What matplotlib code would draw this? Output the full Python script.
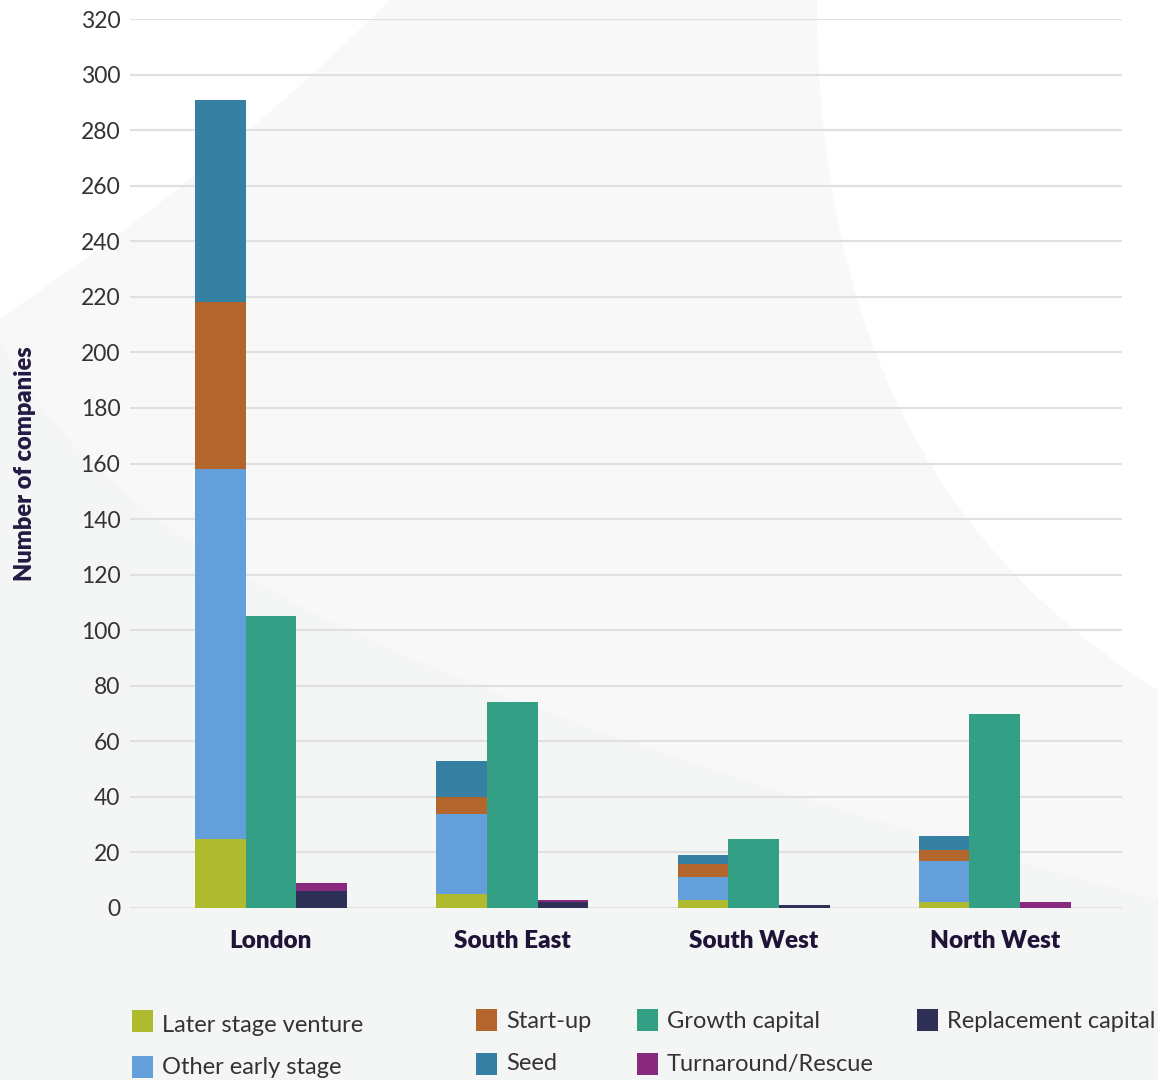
import matplotlib
matplotlib.use("Agg")
import matplotlib.pyplot as plt
from matplotlib.patches import PathPatch, Rectangle
from matplotlib.path import Path
import numpy as np

plt.rcParams['font.family'] = ['Lato', 'DejaVu Sans']

# Companies by region and investment stage
regions = ["London", "South East", "South West", "North West"]
later_stage = [25, 5, 3, 2]
other_early = [133, 29, 8, 15]
start_up = [60, 6, 5, 4]
seed = [73, 13, 3, 5]
growth_capital = [105, 74, 25, 70]
replacement_capital = [6, 2, 1, 0]
turnaround = [3, 1, 0, 2]
y_ticks = list(range(0, 321, 20))

colors = {
    "Later stage venture": "#b0ba2f",
    "Other early stage": "#63a0db",
    "Start-up": "#b3662b",
    "Seed": "#3680a3",
    "Growth capital": "#339f85",
    "Turnaround/Rescue": "#8a2a7e",
    "Replacement capital": "#2e3057",
}

W, H = 1158, 1080
fig = plt.figure(figsize=(W / 100, H / 100), dpi=100)
fig.patch.set_facecolor("#f4f5f5")

# Decorative background swooshes, in pixel coordinates
bg = fig.add_axes([0, 0, 1, 1], zorder=-10)
bg.set_xlim(0, W)
bg.set_ylim(H, 0)
bg.axis("off")

M, C3, C4, L, CL = Path.MOVETO, Path.CURVE3, Path.CURVE4, Path.LINETO, Path.CLOSEPOLY

mid_path = Path(
    [(0, 340), (110, 560), (420, 700), (1158, 900), (1158, 0), (0, 0), (0, 340)],
    [M, C4, C4, C4, L, L, CL])
bg.add_patch(PathPatch(mid_path, facecolor="#f8f8f8", edgecolor="none"))

tl_path = Path([(0, 0), (390, 0), (215, 175), (0, 318), (0, 0)],
               [M, L, C3, C3, CL])
bg.add_patch(PathPatch(tl_path, facecolor="#ffffff", edgecolor="none"))

tr_path = Path([(817, 0), (817, 350), (950, 560), (1158, 690), (1158, 0), (817, 0)],
               [M, C4, C4, C4, L, CL])
bg.add_patch(PathPatch(tr_path, facecolor="#ffffff", edgecolor="none"))

ax = fig.add_axes([130 / W, 1 - 908 / H, (1122 - 130) / W, (908 - 19) / H])
ax.set_facecolor("none")

x = np.arange(len(regions))
w = 0.21

# Stacked early/venture stages
bottom = np.zeros(len(regions))
for name, vals in [("Later stage venture", later_stage), ("Other early stage", other_early),
                   ("Start-up", start_up), ("Seed", seed)]:
    ax.bar(x - w, vals, width=w, bottom=bottom, color=colors[name], zorder=3)
    bottom += np.array(vals)

ax.bar(x, growth_capital, width=w, color=colors["Growth capital"], zorder=3)

bottom = np.zeros(len(regions))
for name, vals in [("Replacement capital", replacement_capital), ("Turnaround/Rescue", turnaround)]:
    ax.bar(x + w, vals, width=w, bottom=bottom, color=colors[name], zorder=3)
    bottom += np.array(vals)

ax.set_xlim(-0.584, 3.527)
ax.set_ylim(0, 320)
ax.set_yticks(y_ticks)
ax.grid(axis="y", color="#e0e0e0", linewidth=1.5, zorder=0)
ax.set_axisbelow(True)
for s in ax.spines.values():
    s.set_visible(False)
ax.tick_params(axis="y", length=0, pad=7, labelsize=16.5, labelcolor="#333333")
ax.tick_params(axis="x", length=0, pad=16)
ax.set_xticks(x)
ax.set_xticklabels(regions, fontsize=17.5, fontweight="heavy", color="#1f1437")
ax.set_ylabel("Number of companies", fontsize=17, fontweight="heavy", color="#231942")
ax.yaxis.set_label_coords((25 - 130) / (1122 - 130), 0.5)
ax.yaxis.label.set_horizontalalignment("center")
ax.yaxis.label.set_verticalalignment("center")

# Legend laid out in irregular columns
legend_items = [
    ("Later stage venture", 132, 1021, 1025),
    ("Other early stage", 132, 1067, 1068),
    ("Start-up", 476, 1020, 1022),
    ("Seed", 476, 1064, 1064),
    ("Growth capital", 637, 1020, 1022),
    ("Turnaround/Rescue", 637, 1064, 1064),
    ("Replacement capital", 917, 1020, 1022),
]
for name, px, py, ty in legend_items:
    fig.add_artist(Rectangle((px / W, 1 - (py + 11) / H), 21 / W, 22 / H,
                             transform=fig.transFigure, facecolor=colors[name],
                             edgecolor="none"))
    fig.text((px + 30) / W, 1 - ty / H, name, fontsize=17, color="#333333",
             va="center", ha="left")

fig.savefig("out.png", dpi=100, facecolor=fig.get_facecolor())
